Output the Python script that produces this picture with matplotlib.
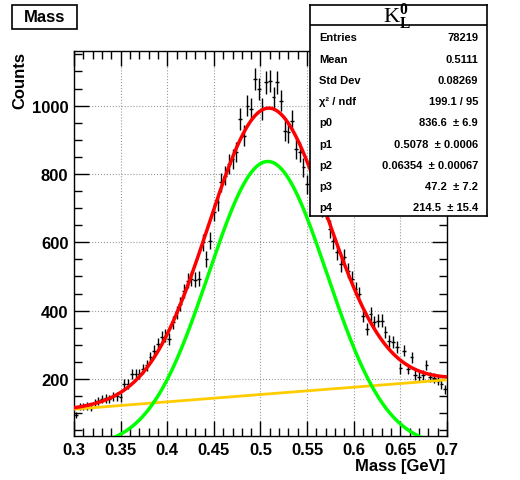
import numpy as np
import matplotlib
matplotlib.use('Agg')
from matplotlib import pyplot as plt
from matplotlib.patches import Rectangle
from matplotlib.ticker import MultipleLocator

plt.rcParams['font.family'] = ['Liberation Sans', 'DejaVu Sans']
plt.rcParams['mathtext.fontset'] = 'custom'
plt.rcParams['mathtext.rm'] = 'Liberation Serif'
plt.rcParams['mathtext.bf'] = 'Liberation Serif:bold'

#-------------------------------------------------------------------------------
# data
#-------------------------------------------------------------------------------

x_lo, x_hi, nbins = 0.3, 0.7, 100

counts = [94, 119, 119, 121, 116, 131, 136, 141, 143, 141,
          149, 149, 146, 185, 185, 214, 214, 214, 229, 240,
          263, 283, 302, 322, 327, 317, 366, 395, 420, 458,
          488, 493, 490, 493, 600, 551, 605, 688, 717, 776,
          795, 829, 845, 863, 961, 912, 1000, 990, 1078, 1049,
          990, 1068, 1073, 1024, 1068, 1015, 927, 922, 956, 873,
          863, 819, 770, 780, 770, 745, 700, 695, 639, 605,
          571, 537, 556, 517, 493, 463, 449, 385, 346, 390,
          366, 371, 371, 337, 312, 307, 293, 231, 283, 229,
          263, 211, 205, 211, 241, 205, 202, 195, 185, 170]

# fit: gaus(p0,p1,p2) + pol1(p3,p4)
p_vals = [836.6, 0.5078, 0.06354, 47.2, 214.5]

stat_labels = ['Entries', 'Mean', 'Std Dev', u'\u03c7\u00b2 / ndf',
               'p0', 'p1', 'p2', 'p3', 'p4']
stat_values = ['78219', '0.5111', '0.08269', '199.1 / 95',
               u'836.6  \u00b1 6.9', u'0.5078  \u00b1 0.0006',
               u'0.06354  \u00b1 0.00067', u'47.2  \u00b1 7.2',
               u'214.5  \u00b1 15.4']

#-------------------------------------------------------------------------------
# figure
#-------------------------------------------------------------------------------

W, H = 520., 481.

def fx(px): return px / W
def fy(py): return 1 - py / H

fig = plt.figure(figsize=(5.2, 4.81), dpi=100)
ax = fig.add_axes([fx(74), fy(437), 373/W, 385/H])

edges = np.linspace(x_lo, x_hi, nbins + 1)
centers = 0.5 * (edges[:-1] + edges[1:])
counts = np.array(counts, dtype=float)
ax.errorbar(centers, counts, xerr=0.5*(edges[1]-edges[0]), yerr=np.sqrt(counts),
            fmt='none', ecolor='black', elinewidth=1, capsize=0, zorder=2)

p0, p1, p2, p3, p4 = p_vals
xf = np.linspace(x_lo, x_hi, 500)
sig = p0 * np.exp(-0.5 * ((xf - p1) / p2)**2)
bkg = p3 + p4 * xf
ax.plot(xf, bkg, color='#ffcc00', lw=2, zorder=3)
ax.plot(xf, sig, color='#00ff00', lw=2.5, zorder=3)
ax.plot(xf, sig + bkg, color='#ff0000', lw=2.5, zorder=4)

ax.set_xlim(x_lo, x_hi)
ax.set_ylim(33, 1160)
ax.xaxis.set_major_locator(MultipleLocator(0.05))
ax.xaxis.set_minor_locator(MultipleLocator(0.01))
ax.yaxis.set_major_locator(MultipleLocator(200))
ax.yaxis.set_minor_locator(MultipleLocator(50))
xt = np.arange(0.3, 0.7001, 0.05)
ax.set_xticks(xt)
ax.set_xticklabels(['%g' % round(v, 2) for v in xt])
yt = [200, 400, 600, 800, 1000]
ax.set_yticks(yt)
ax.set_yticklabels([str(v) for v in yt])
ax.tick_params(which='both', direction='in', top=True, right=True, width=1)
ax.tick_params(which='major', length=11, labelsize=12, pad=4)
ax.tick_params(which='minor', length=6)
for lab in ax.get_xticklabels() + ax.get_yticklabels():
  lab.set_fontweight('bold')
ax.grid(True, which='major', linestyle=':', color='#999999', lw=0.8)
for s in ax.spines.values():
  s.set_linewidth(1)

fig.text(fx(445), fy(467), 'Mass [GeV]', ha='right', va='center',
         fontsize=12, fontweight='bold')
fig.text(fx(20), fy(52), 'Counts', ha='center', va='top', rotation=90,
         fontsize=12, fontweight='bold')

# title box
fig.add_artist(Rectangle((fx(12), fy(30)), 65/W, 24/H, transform=fig.transFigure,
                         facecolor='white', edgecolor='black', lw=1.2))
fig.text(fx(45), fy(18), 'Mass', ha='center', va='center',
         fontsize=12, fontweight='bold')

# stats box
bx = fig.add_axes([fx(310), fy(217), 177/W, 211/H], zorder=10)
bx.set_facecolor('white')
bx.set_xticks([])
bx.set_yticks([])
for s in bx.spines.values():
  s.set_linewidth(1.2)
bx.set_xlim(310, 487)
bx.set_ylim(217, 6)
bx.axhline(26, color='black', lw=1.2)
bx.text(397, 17, r'$\mathrm{K}_{\mathbf{L}}^{\mathbf{0}}$', ha='center', va='center',
        fontsize=16)
rows_y = [38.3, 60, 81, 101.7, 123, 145, 166, 186.7, 208]
for y, lab, val in zip(rows_y, stat_labels, stat_values):
  bx.text(319, y, lab, ha='left', va='center', fontsize=8, fontweight='bold')
  bx.text(478, y, val, ha='right', va='center', fontsize=8, fontweight='bold')

fig.savefig('out.png', dpi=100)
